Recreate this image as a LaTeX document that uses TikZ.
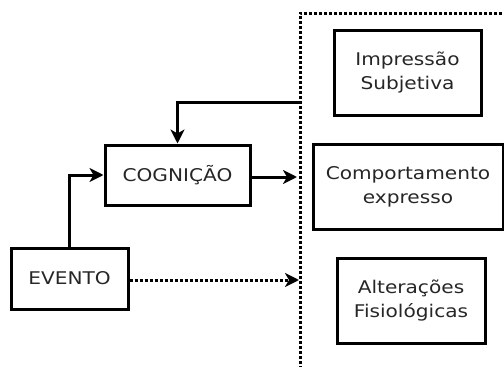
\documentclass[tikz,border=0pt]{standalone}
\usepackage{fontspec}
\setmainfont{DejaVu Sans}[FakeStretch=1.15]
\usetikzlibrary{arrows.meta}

\begin{document}
\begin{tikzpicture}[x=1pt,y=-1pt,
    box/.style={rectangle,draw,line width=3pt,align=center,text=black!85,
      font=\fontsize{17.5}{24}\selectfont,inner sep=0pt},
    arr/.style={line width=3pt,-{Stealth[length=14pt,width=14pt,inset=4pt]}},
    dots/.style={line width=3pt,dash pattern=on 3pt off 2pt}]
    \useasboundingbox (0,0) rectangle (504,367);
    \clip (0,0) rectangle (504,367);
    \node (grp) at (410,196.5) [rectangle,draw,dots,minimum width=220pt,minimum height=367pt] {};
    \node (cog) at (177.5,175) [box,minimum width=145pt,minimum height=60pt] {COGNIÇÃO};
    \node (evt) at (69.5,278.5) [box,minimum width=117pt,minimum height=61pt] {EVENTO};
    \node (imp) at (407.5,72.5) [box,minimum width=147pt,minimum height=85pt] {Impressão\\Subjetiva};
    \node (comp) at (408,186.5) [box,minimum width=190pt,minimum height=85pt] {Comportamento\\expresso};
    \node (alt) at (411,300.5) [box,minimum width=148pt,minimum height=85pt] {Alterações\\Fisiológicas};
    \coordinate (fb) at (300,102);
    \coordinate (c1) at (297,177);
    \coordinate (c2) at (299,280);
    \draw[arr] (fb) -| (cog.north);
    \draw[arr] (evt.north) |- (cog.west);
    \draw[arr] (cog.east |- c1) -- (c1);
    \draw[dots,-{Stealth[length=14pt,width=14pt,inset=4pt]}] (evt.east |- c2) -- (c2);
  \end{tikzpicture}
\end{document}
